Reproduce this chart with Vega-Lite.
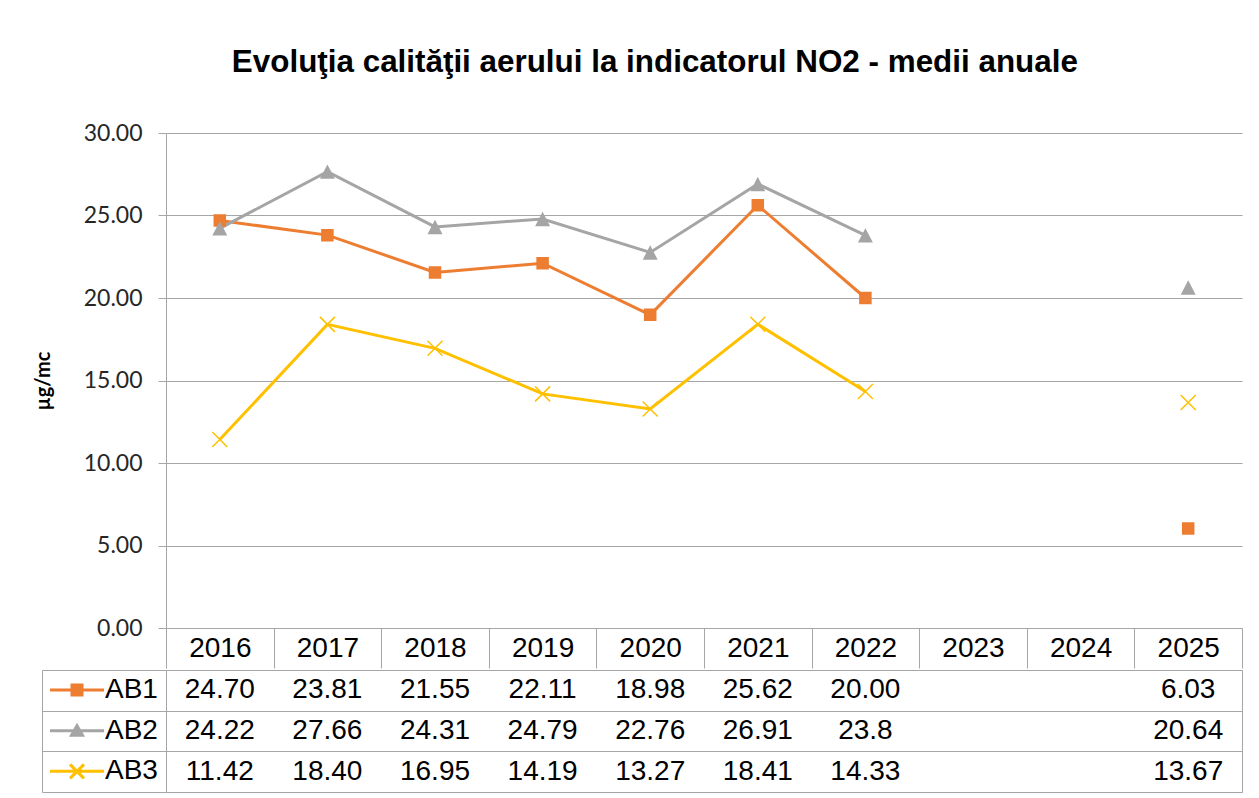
{
  "$schema": "https://vega.github.io/schema/vega-lite/v6.json",
  "background": "white",
  "padding": {"left": 33, "top": 46, "right": 5, "bottom": 5},
  "title": {"text": "Evoluţia calităţii aerului la indicatorul NO2 - medii anuale", "font": "Liberation Sans", "fontSize": 31.4, "fontWeight": "bold", "color": "#000000", "anchor": "middle", "offset": 44, "dx": 17},
  "data": {"values": [
    {"year": "2016", "series": "AB1", "value": 24.70, "label": "24.70"},
    {"year": "2017", "series": "AB1", "value": 23.81, "label": "23.81"},
    {"year": "2018", "series": "AB1", "value": 21.55, "label": "21.55"},
    {"year": "2019", "series": "AB1", "value": 22.11, "label": "22.11"},
    {"year": "2020", "series": "AB1", "value": 18.98, "label": "18.98"},
    {"year": "2021", "series": "AB1", "value": 25.62, "label": "25.62"},
    {"year": "2022", "series": "AB1", "value": 20.00, "label": "20.00"},
    {"year": "2023", "series": "AB1", "value": null, "label": null},
    {"year": "2024", "series": "AB1", "value": null, "label": null},
    {"year": "2025", "series": "AB1", "value": 6.03, "label": "6.03"},
    {"year": "2016", "series": "AB2", "value": 24.22, "label": "24.22"},
    {"year": "2017", "series": "AB2", "value": 27.66, "label": "27.66"},
    {"year": "2018", "series": "AB2", "value": 24.31, "label": "24.31"},
    {"year": "2019", "series": "AB2", "value": 24.79, "label": "24.79"},
    {"year": "2020", "series": "AB2", "value": 22.76, "label": "22.76"},
    {"year": "2021", "series": "AB2", "value": 26.91, "label": "26.91"},
    {"year": "2022", "series": "AB2", "value": 23.8, "label": "23.8"},
    {"year": "2023", "series": "AB2", "value": null, "label": null},
    {"year": "2024", "series": "AB2", "value": null, "label": null},
    {"year": "2025", "series": "AB2", "value": 20.64, "label": "20.64"},
    {"year": "2016", "series": "AB3", "value": 11.42, "label": "11.42"},
    {"year": "2017", "series": "AB3", "value": 18.40, "label": "18.40"},
    {"year": "2018", "series": "AB3", "value": 16.95, "label": "16.95"},
    {"year": "2019", "series": "AB3", "value": 14.19, "label": "14.19"},
    {"year": "2020", "series": "AB3", "value": 13.27, "label": "13.27"},
    {"year": "2021", "series": "AB3", "value": 18.41, "label": "18.41"},
    {"year": "2022", "series": "AB3", "value": 14.33, "label": "14.33"},
    {"year": "2023", "series": "AB3", "value": null, "label": null},
    {"year": "2024", "series": "AB3", "value": null, "label": null},
    {"year": "2025", "series": "AB3", "value": 13.67, "label": "13.67"}
  ]},
  "spacing": 0,
  "vconcat": [
    {
      "width": 1076,
      "height": 495,
      "view": {"stroke": null},
      "encoding": {
        "x": {"field": "year", "type": "ordinal",
          "scale": {"type": "band", "domain": ["2016","2017","2018","2019","2020","2021","2022","2023","2024","2025"], "paddingInner": 0, "paddingOuter": 0},
          "axis": {"title": null, "orient": "bottom", "domain": true, "domainColor": "#a6a6a6", "ticks": true, "tickBand": "extent", "tickSize": 40, "tickColor": "#a6a6a6", "labelFont": "Liberation Sans", "labelFontSize": 28, "labelColor": "#000000", "labelPadding": -20, "labelBaseline": "middle", "labelAngle": 0, "grid": false}},
        "y": {"field": "value", "type": "quantitative",
          "scale": {"domain": [0, 30], "nice": false},
          "axis": {"title": "µg/mc", "values": [0,5,10,15,20,25,30], "format": ".2f", "grid": true, "gridColor": "#a6a6a6", "domain": true, "domainColor": "#a6a6a6", "tickSize": 8, "tickColor": "#a6a6a6", "labelFont": "Lato", "labelFontSize": 23, "labelColor": "#262626", "labelPadding": 16, "titleFont": "Lato", "titleFontSize": 20, "titleFontWeight": "bold", "titleColor": "#000000", "titlePadding": 30}}
      },
      "layer": [
        {
          "mark": {"type": "line", "strokeWidth": 3, "invalid": "break-paths-show-domains"},
          "encoding": {
            "color": {"field": "series", "type": "nominal", "scale": {"domain": ["AB1","AB2","AB3"], "range": ["#ED7D31","#A5A5A5","#FFC000"]}, "legend": null}
          }
        },
        {
          "mark": {"type": "point", "filled": true, "size": 100, "strokeWidth": 1.5, "opacity": 1},
          "encoding": {
            "shape": {"field": "series", "type": "nominal", "scale": {"domain": ["AB1","AB2","AB3"], "range": ["M-1.1,-1.1H1.1V1.1H-1.1Z", "M0,-1.1L1.25,1.3H-1.25Z", "M-1.5,-1.5L1.5,1.5M1.5,-1.5L-1.5,1.5"]}, "legend": null},
            "fill": {"field": "series", "type": "nominal", "scale": {"domain": ["AB1","AB2","AB3"], "range": ["#ED7D31","#A5A5A5","#FFC000"]}, "legend": null},
            "stroke": {"field": "series", "type": "nominal", "scale": {"domain": ["AB1","AB2","AB3"], "range": ["#ED7D31","#A5A5A5","#FFC000"]}, "legend": null}
          }
        }
      ]
    },
    {
      "width": 1076,
      "height": 122,
      "view": {"stroke": "#a6a6a6"},
      "resolve": {"axis": {"y": "independent"}},
      "layer": [
        {
          "transform": [{"filter": "datum.label != null"}],
          "mark": {"type": "text", "font": "Liberation Sans", "fontSize": 28, "color": "#000000", "baseline": "middle"},
          "encoding": {
            "x": {"field": "year", "type": "ordinal",
              "scale": {"type": "band", "domain": ["2016","2017","2018","2019","2020","2021","2022","2023","2024","2025"], "paddingInner": 0, "paddingOuter": 0},
              "axis": {"title": null, "labels": false, "ticks": false, "domain": false, "grid": true, "tickBand": "extent", "gridColor": "#a6a6a6"}},
            "y": {"field": "series", "type": "nominal",
              "scale": {"type": "band", "domain": ["AB1","AB2","AB3"], "paddingInner": 0, "paddingOuter": 0},
              "axis": {"title": null, "orient": "left", "labels": false, "domain": false, "ticks": true, "tickSize": 124, "tickBand": "extent", "tickColor": "#a6a6a6", "grid": true, "gridColor": "#a6a6a6"}},
            "text": {"field": "label"}
          }
        },
        {
          "mark": {"type": "point", "filled": false, "opacity": 0, "strokeWidth": 3},
          "encoding": {
            "x": {"field": "year", "type": "ordinal", "axis": null},
            "y": {"field": "series", "type": "nominal", "axis": {"title": null, "orient": "left", "offset": 124, "domain": true, "domainColor": "#a6a6a6", "ticks": false, "labels": false, "grid": false}},
            "shape": {"field": "series", "type": "nominal", "title": null,
              "scale": {"domain": ["AB1","AB2","AB3"], "range": [
                "M-2.7,0H2.7M-0.5,-0.5H0.5V0.5H-0.5ZM-0.2,-0.2H0.2V0.2H-0.2ZM-0.05,-0.05H0.05V0.05H-0.05Z",
                "M-2.7,0H2.7M0,-0.5L0.55,0.45H-0.55ZM0,-0.15L0.22,0.25H-0.22Z",
                "M-2.7,0H2.7M-0.7,-0.7L0.7,0.7M0.7,-0.7L-0.7,0.7"]},
              "legend": {"orient": "none", "legendX": -103, "legendY": 6, "padding": 0, "symbolSize": 400, "symbolStrokeWidth": 3, "labelFont": "Liberation Sans", "labelFontSize": 28, "labelColor": "#000000", "labelOffset": 14, "rowPadding": 12.67}},
            "stroke": {"field": "series", "type": "nominal", "title": null,
              "scale": {"domain": ["AB1","AB2","AB3"], "range": ["#ED7D31","#A5A5A5","#FFC000"]},
              "legend": {"orient": "none", "legendX": -103, "legendY": 6, "padding": 0, "symbolSize": 400, "symbolStrokeWidth": 3, "labelFont": "Liberation Sans", "labelFontSize": 28, "labelColor": "#000000", "labelOffset": 14, "rowPadding": 12.67}}
          }
        }
      ]
    }
  ],
  "resolve": {"scale": {"x": "independent", "y": "independent", "color": "independent", "shape": "independent", "fill": "independent", "stroke": "independent"}},
  "config": {
    "view": {"stroke": null}
  }
}
